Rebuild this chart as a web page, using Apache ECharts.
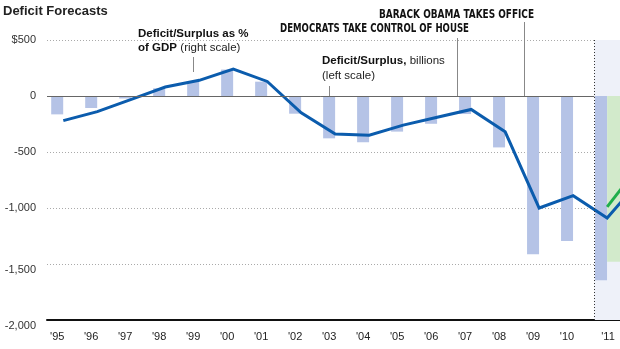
<!DOCTYPE html>
<html>
<head>
<meta charset="utf-8">
<script src="https://cdn.jsdelivr.net/npm/echarts@6/dist/echarts.min.js"></script>
<style>
  html, body { margin: 0; padding: 0; background: #fff; overflow: hidden; width: 620px; height: 349px; }
  #chart { width: 720px; height: 349px; }
</style>
</head>
<body>
<div id="chart"></div>
<script>
// Fiscal years shown as bars (deficit/surplus, $ billions, left scale)
const years = [1995, 1996, 1997, 1998, 1999, 2000, 2001, 2002, 2003, 2004, 2005, 2006, 2007, 2008, 2009, 2010, 2011];
const yearLabels = ["'95", "'96", "'97", "'98", "'99", "'00", "'01", "'02", "'03", "'04", "'05", "'06", "'07", "'08", "'09", "'10", "'11"];
const deficitBillions = [-164, -107, -22, 69, 126, 236, 128, -158, -378, -413, -318, -248, -161, -459, -1413, -1294, -1645];

// Deficit/surplus as % of GDP (right scale)
const gdpYears = [1995, 1996, 1997, 1998, 1999, 2000, 2001, 2002, 2003, 2004, 2005, 2006, 2007, 2008, 2009, 2010, 2011, 2012];
const deficitPctGdp = [-2.2, -1.4, -0.3, 0.8, 1.4, 2.4, 1.3, -1.5, -3.4, -3.5, -2.6, -1.9, -1.2, -3.2, -10.0, -8.9, -10.9, -7.4];

// Alternative forecast (green): % of GDP line and $ billions band
const altYears = [2011, 2012];
const altPctGdp = [-9.9, -6.0];
const altBillions = -1480;

// Left-scale tick labels
const leftTicks = [500, 0, -500, -1000, -1500, -2000];
const leftTickText = ['$500', '0', '-500', '-1,000', '-1,500', '-2,000'];

// Event markers
const forecastStart = 2010.8;
const democratsTakeHouse = 2006.76;
const obamaTakesOffice = 2008.74;

const X_MIN = 1994.7, X_MAX = 2014;
const LINE_SHIFT = 0.18; // % of GDP points sit at the end of each fiscal-year bar

const chart = echarts.init(document.getElementById('chart'), null, { renderer: 'canvas' });
const FONT = 'Liberation Sans, Arial, sans-serif';

const option = {
  animation: false,
  backgroundColor: '#fff',
  grid: { left: 47, top: 40, width: 656, height: 280, containLabel: false },
  xAxis: {
    type: 'value',
    min: X_MIN,
    max: X_MAX,
    splitLine: { show: false },
    axisTick: { show: false },
    axisLine: { show: true, onZero: false, lineStyle: { color: '#111', width: 2 } },
    axisLabel: {
      customValues: years,
      margin: 11,
      fontFamily: FONT,
      fontSize: 11,
      color: '#222',
      formatter: function (v) {
        const i = years.indexOf(Math.round(v));
        const t = yearLabels[i];
        return Math.round(v) === 2011 ? '{s|' + t + '}' : t;
      },
      rich: { s: { fontFamily: FONT, fontSize: 11, color: '#222', padding: [0, 0, 0, 14] } }
    }
  },
  yAxis: [
    {
      type: 'value',
      min: -2000,
      max: 500,
      interval: 500,
      axisLine: { show: false },
      axisTick: { show: false },
      splitLine: { show: true, lineStyle: { color: '#aaa', type: [1, 2], width: 1 } },
      axisLabel: {
        margin: 11,
        fontFamily: FONT,
        fontSize: 11,
        color: '#333',
        formatter: function (v) {
          const t = leftTickText[leftTicks.indexOf(v)];
          return (v === -1500 || v === -2000) ? '{d|' + t + '}' : t;
        },
        rich: { d: { fontFamily: FONT, fontSize: 11, color: '#333', padding: [11, 0, 0, 0] } }
      }
    },
    { type: 'value', min: -20, max: 5, interval: 5, show: false }
  ],
  series: [
    {
      // forecast period shading
      type: 'line',
      data: [],
      z: 0,
      markArea: {
        silent: true,
        itemStyle: { color: '#eef1f9' },
        data: [[{ xAxis: forecastStart }, { xAxis: X_MAX }]]
      }
    },
    {
      name: 'Deficit/Surplus, billions',
      type: 'bar',
      barWidth: 12,
      z: 2,
      itemStyle: { color: '#b5c3e6' },
      data: years.map((y, i) => [y, deficitBillions[i]]),
      markLine: {
        silent: true,
        symbol: 'none',
        label: { show: false },
        data: [
          [{ coord: [X_MIN, 0], lineStyle: { color: '#666', width: 1, type: 'solid' } }, { coord: [forecastStart, 0] }],
          [{ coord: [forecastStart, -2000], lineStyle: { color: '#333', width: 1, type: [1, 2] } }, { coord: [forecastStart, 500] }]
        ]
      }
    },
    {
      name: 'Alt forecast',
      type: 'line',
      yAxisIndex: 1,
      z: 3,
      symbol: 'none',
      lineStyle: { color: '#1fae4b', width: 3 },
      data: altYears.map((y, i) => [y + LINE_SHIFT, altPctGdp[i]]),
      markArea: {
        silent: true,
        itemStyle: { color: '#d2eacb' },
        data: [[{ coord: [altYears[0] + LINE_SHIFT, 0] }, { coord: [X_MAX, altBillions / 100] }]]
      }
    },
    {
      name: 'Deficit/Surplus as % of GDP',
      type: 'line',
      yAxisIndex: 1,
      z: 4,
      symbol: 'none',
      lineStyle: { color: '#0b5cad', width: 3, join: 'miter' },
      data: gdpYears.map((y, i) => [y + LINE_SHIFT, deficitPctGdp[i]])
    }
  ]
};

chart.setOption(option);

// Annotations: text plus leader lines anchored on the axes
const toPx = (x, y) => chart.convertToPixel({ xAxisIndex: 0, yAxisIndex: 0 }, [x, y]);
const zeroY = toPx(X_MIN, 0)[1];
const leader = (x, y1, y2) => ({
  type: 'line', silent: true, z: 5,
  shape: { x1: Math.round(x) + 0.5, y1: y1, x2: Math.round(x) + 0.5, y2: y2 },
  style: { stroke: '#888', lineWidth: 1 }
});
const CONDENSED = '"Liberation Sans Narrow", "DejaVu Sans Condensed", Arial, sans-serif';

chart.setOption({
  graphic: [
    {
      type: 'text', left: 3, top: 5, silent: true,
      style: { text: 'Deficit Forecasts', fontFamily: FONT, fontWeight: 'bold', fontSize: 13, fill: '#222' }
    },
    {
      type: 'text', left: 138, top: 28, silent: true,
      style: {
        text: '{b|Deficit/Surplus as %}\n{b|of GDP} {n|(right scale)}',
        rich: {
          b: { fontFamily: FONT, fontWeight: 'bold', fontSize: 11.5, fill: '#111', lineHeight: 14 },
          n: { fontFamily: FONT, fontSize: 11.5, fill: '#222', lineHeight: 14 }
        }
      }
    },
    leader(toPx(1999, 0)[0], 57, 72),
    {
      type: 'text', left: 322, top: 55, silent: true,
      style: {
        text: '{b|Deficit/Surplus,} {n|billions}\n{n|(left scale)}',
        rich: {
          b: { fontFamily: FONT, fontWeight: 'bold', fontSize: 11.5, fill: '#111', lineHeight: 15 },
          n: { fontFamily: FONT, fontSize: 11.5, fill: '#222', lineHeight: 15 }
        }
      }
    },
    leader(toPx(2003, 0)[0], 86, zeroY),
    {
      type: 'text', x: 280, y: 22, scaleX: 0.765, silent: true,
      style: { text: 'DEMOCRATS TAKE CONTROL OF HOUSE', fontFamily: CONDENSED, fontWeight: 'bold', fontSize: 12.5, fill: '#111' }
    },
    leader(toPx(democratsTakeHouse, 0)[0], 38, zeroY),
    {
      type: 'text', x: 379, y: 8, scaleX: 0.795, silent: true,
      style: { text: 'BARACK OBAMA TAKES OFFICE', fontFamily: CONDENSED, fontWeight: 'bold', fontSize: 12.5, fill: '#111' }
    },
    leader(toPx(obamaTakesOffice, 0)[0], 22, zeroY)
  ]
});
</script>
</body>
</html>
